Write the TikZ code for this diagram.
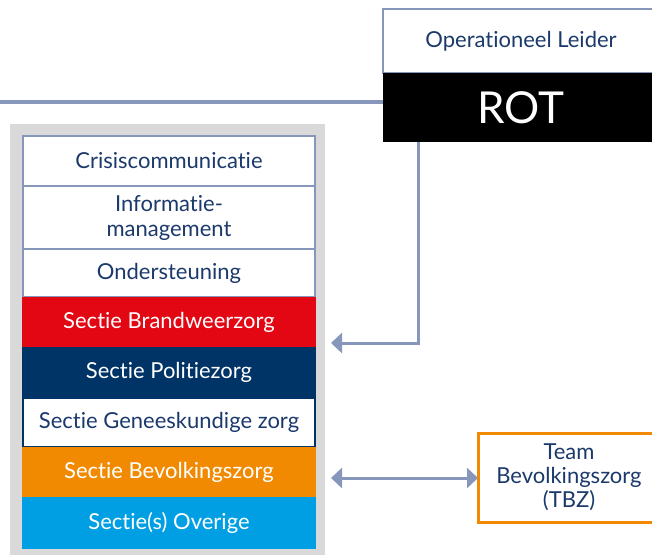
\documentclass[tikz,border=0pt]{standalone}
\usepackage{fontspec}
\setmainfont{Lato}[Ligatures={NoCommon}]
\usetikzlibrary{positioning,arrows.meta}
\definecolor{slate}{HTML}{8797BC}
\definecolor{navytext}{HTML}{1B3A6B}
\definecolor{brandred}{HTML}{E30613}
\definecolor{politienavy}{HTML}{003366}
\definecolor{bzorange}{HTML}{F18A00}
\definecolor{overigblue}{HTML}{009FE3}
\definecolor{panelgray}{HTML}{D9D9D9}
\begin{document}
\begin{tikzpicture}[
    x=1pt, y=-1pt,
    every node/.style={inner sep=0pt, outer sep=0pt, font=\fontsize{22}{25}\selectfont},
    staf/.style={draw=slate, line width=2.5pt, fill=white, text=navytext, minimum width=292pt, align=center},
    sectie/.style={minimum width=294pt, text=white},
    link/.style={draw=slate, line width=3pt}
]
    \useasboundingbox (0,0) rectangle (652,554);
    % Panel
    \fill[panelgray] (10,124) rectangle (325,560);
    % Top
    \node[draw=slate, line width=2pt, fill=white, text=navytext, minimum width=276pt, minimum height=64pt] (leider) at (521,41) {Operationeel Leider};
    \node[fill=black, text=white, minimum width=276pt, minimum height=69pt, font=\fontsize{44}{48}\selectfont] (rot) at (521,107.5) {ROT};
    % Staff
    \node[staf, minimum height=50pt] (crisis) at (169,161) {Crisiscommunicatie};
    \node[staf, minimum height=63pt, below=0pt of crisis] (info) {Informatie-\\management};
    \node[staf, minimum height=48pt, below=0pt of info] (onder) {Ondersteuning};
    % Sections
    \node[sectie, fill=brandred, minimum height=50pt] (brand) at (169,322) {Sectie Brandweerzorg};
    \node[sectie, fill=politienavy, minimum height=51pt, below=0pt of brand] (politie) {Sectie Politiezorg};
    \node[sectie, draw=politienavy, line width=1.5pt, fill=white, text=navytext, minimum width=292pt, minimum height=48pt, below=0.5pt of politie] (genees) {Sectie Geneeskundige zorg};
    \node[sectie, fill=bzorange, minimum height=50pt, below=0.5pt of genees] (bevolk) {Sectie Bevolkingszorg};
    \node[sectie, fill=overigblue, minimum height=52pt, below=0pt of bevolk] (overig) {Sectie(s) Overige};
    % Team
    \node[draw=bzorange, line width=3pt, fill=white, text=navytext, minimum width=182pt, minimum height=89pt, align=center, font=\fontsize{22}{24}\selectfont] (tbz) at (569,477.5) {Team\\Bevolkingszorg\\(TBZ)};
    % Connectors
    \coordinate (lijn) at (0,102);
    \coordinate (rotin) at (331,343);
    \coordinate (bzin) at (331,478);
    \draw[link, line width=4.5pt] (lijn) -- (lijn -| rot.west);
    \draw[link, -{Triangle[length=11pt,width=20pt]}] (rot.south -| 418,0) |- (rotin);
    \draw[link, {Triangle[length=11pt,width=20pt]}-{Triangle[length=11pt,width=20pt]}] (bzin) -- (bzin -| tbz.west);
\end{tikzpicture}
\end{document}
